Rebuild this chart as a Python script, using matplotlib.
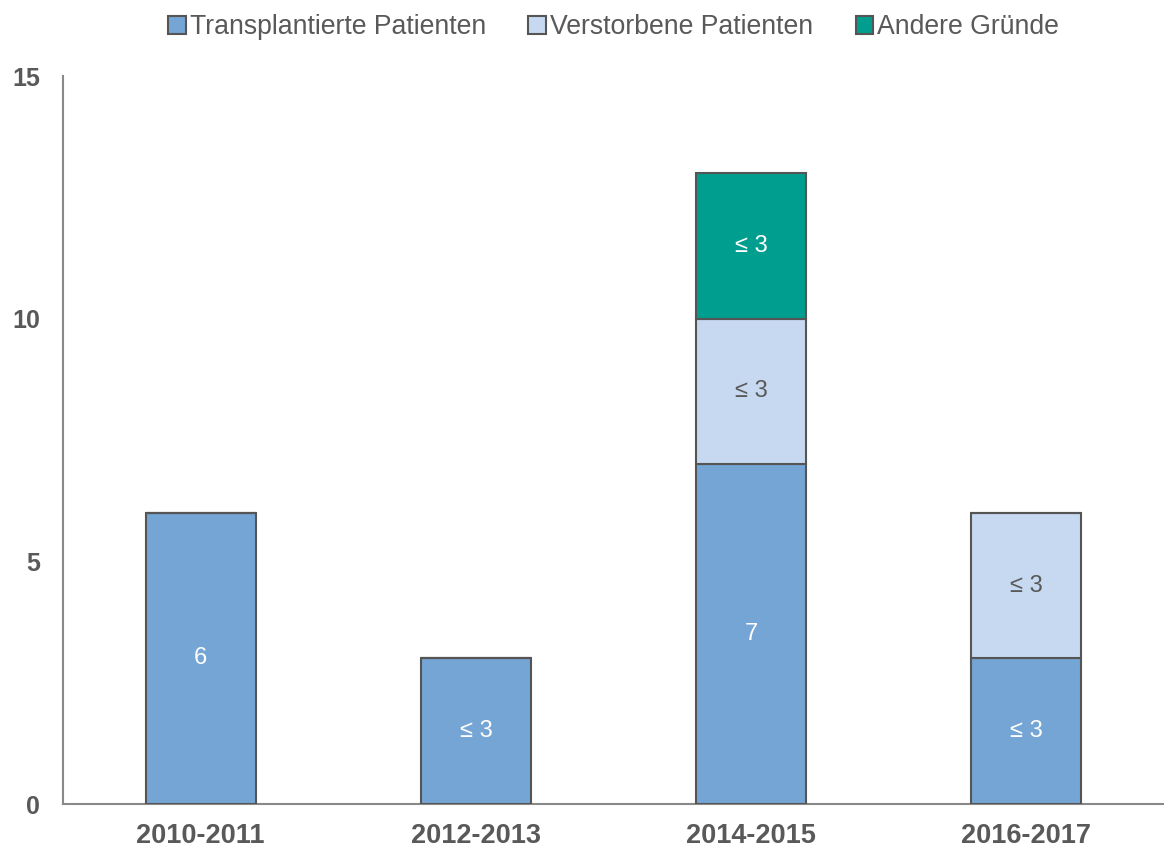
import numpy as np
import matplotlib.pyplot as plt

plt.rcParams["font.family"] = ["Liberation Sans", "DejaVu Sans"]

# Data
periods = ["2010-2011", "2012-2013", "2014-2015", "2016-2017"]
transplantiert = [6, 3, 7, 3]
verstorben = [0, 0, 3, 3]
andere = [0, 0, 3, 0]
labels_transplantiert = ["6", "≤ 3", "7", "≤ 3"]
labels_verstorben = ["", "", "≤ 3", "≤ 3"]
labels_andere = ["", "", "≤ 3", ""]

series = [
    ("Transplantierte Patienten", transplantiert, labels_transplantiert, "#75a5d4", "white"),
    ("Verstorbene Patienten", verstorben, labels_verstorben, "#c6d9f0", "#595959"),
    ("Andere Gründe", andere, labels_andere, "#009e8f", "white"),
]

text_color = "#595959"
edge_color = "#555555"

fig = plt.figure(figsize=(11.64, 8.49), dpi=100)
ax = fig.add_axes([63 / 1164, 45 / 849, 1 - 63 / 1164, (804 - 76) / 849])

x = np.arange(len(periods))
bottom = np.zeros(len(periods))
for name, values, labels, color, lab_color in series:
    vals = np.array(values, dtype=float)
    bars = ax.bar(x, vals, width=0.4, bottom=bottom, color=color,
                  edgecolor=edge_color, linewidth=1.5, label=name, zorder=3)
    for rect, v, lab in zip(bars, vals, labels):
        if v > 0 and lab:
            ax.text(rect.get_x() + rect.get_width() / 2,
                    rect.get_y() + rect.get_height() / 2, lab,
                    ha="center", va="center", fontsize=17, color=lab_color,
                    zorder=4)
    bottom += vals

ax.set_xlim(-0.5, 3.5)
ax.set_ylim(0, 15)
ax.set_yticks([0, 5, 10, 15])
ax.set_xticks(x)
ax.set_xticklabels(periods)
for lbl in ax.get_xticklabels():
    lbl.set_fontweight("bold")
    lbl.set_fontsize(19.5)
    lbl.set_color(text_color)
for lbl in ax.get_yticklabels():
    lbl.set_fontweight("bold")
    lbl.set_fontsize(18)
    lbl.set_color(text_color)
ax.tick_params(axis="both", length=0)
ax.tick_params(axis="y", pad=16.5)
ax.tick_params(axis="x", pad=14)

for side in ["top", "right"]:
    ax.spines[side].set_visible(False)
for side in ["left", "bottom"]:
    ax.spines[side].set_color("#898989")
    ax.spines[side].set_linewidth(1.5)

leg = ax.legend(loc="center", bbox_to_anchor=(0.5, 1.067), ncol=3,
                frameon=False, fontsize=19.2, handlelength=0.65,
                handleheight=0.65, handletextpad=0.15, columnspacing=1.6,
                borderaxespad=0)
for t in leg.get_texts():
    t.set_color(text_color)

fig.savefig("out.png", dpi=100)
